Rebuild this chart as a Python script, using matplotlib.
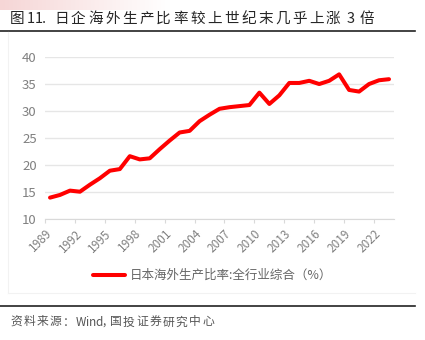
import numpy as np
import matplotlib.pyplot as plt
from matplotlib.colors import LinearSegmentedColormap
from matplotlib.lines import Line2D

plt.rcParams['font.family'] = ['Noto Sans CJK SC', 'DejaVu Sans']

# 日本海外生产比率：全行业综合 (%)
years = list(range(1989, 2024))
ratio = [13.9, 14.4, 15.2, 15.0, 16.3, 17.5, 18.9, 19.2, 21.6, 21.0,
         21.2, 22.9, 24.5, 26.0, 26.3, 28.1, 29.3, 30.4, 30.7, 30.9,
         31.1, 33.4, 31.3, 32.9, 35.2, 35.2, 35.6, 35.0, 35.6, 36.8,
         33.9, 33.6, 35.0, 35.7, 35.9]
tick_years = list(range(1989, 2024, 3))
y_ticks = [10, 15, 20, 25, 30, 35, 40]

title = '图11. 日企海外生产比率较上世纪末几乎上涨 3 倍'
series_name = '日本海外生产比率:全行业综合（%）'
source = '资料来源：Wind,国投证券研究中心'

W, H = 425, 340
fig = plt.figure(figsize=(W / 100, H / 100), dpi=100)


def spaced_text(x_px, y_px, s, cjk_adv, narrow, **kw):
    # place characters one by one so the letter spacing stays wide
    x = x_px
    for ch in s:
        fig.text(x / W, 1 - y_px / H, ch, va='center', ha='left', **kw)
        x += narrow.get(ch, cjk_adv if ord(ch) > 0x2e80 else 7.5)


# faint pink wash behind the top-left corner
bg = fig.add_axes([0, 0.972, 0.40, 0.028])
bg.imshow(np.linspace(1, 0, 200)[None, :], aspect='auto',
          cmap=LinearSegmentedColormap.from_list('wash', ['#ffffff', '#f6d6d6']),
          extent=[0, 1, 0, 1])
bg.set_axis_off()

spaced_text(10, 19, title, 17, {'1': 7.5, '.': 8, ' ': 4, '3': 9},
            fontsize=10.5, color='#262626')
fig.add_artist(Line2D([0, 0.976], [0.909, 0.909], color='#222222', lw=1.2))
fig.add_artist(Line2D([0, 0.976], [0.1, 0.1], color='#222222', lw=1.2))
spaced_text(10, 322, source, 13.2,
            {'：': 12.5, 'W': 9.5, 'i': 4, 'n': 7, 'd': 7, ',': 7},
            fontsize=8.5, color='#555555')

# light frame of the chart area
fig.add_artist(Line2D([0.019, 0.019], [0.138, 0.905], color='#f2f2f2', lw=0.8))
fig.add_artist(Line2D([0.019, 0.976], [0.138, 0.138], color='#f2f2f2', lw=0.8))

ax = fig.add_axes([0.106, 0.357, 0.821, 0.475])
ax.plot(years, ratio, color='#ff0000', lw=2.9, solid_joinstyle='round', solid_capstyle='round')

ax.set_xlim(1988.5, 2023.5)
ax.set_ylim(10, 40)
ax.set_yticks(y_ticks)
ax.set_xticks([y - 0.5 for y in tick_years])
ax.set_xticklabels([str(y) for y in tick_years], rotation=45, ha='right',
                   rotation_mode='anchor')
ax.grid(axis='y', color='#e6e6e6', lw=1)
ax.set_axisbelow(True)
for side in ['top', 'right', 'left']:
    ax.spines[side].set_visible(False)
ax.spines['bottom'].set_color('#d9d9d9')
ax.tick_params(axis='y', length=0, labelsize=9.5, labelcolor='#808080', pad=6)
ax.tick_params(axis='x', length=3, color='#d9d9d9', labelsize=8.5, labelcolor='#808080', pad=3)

handle = Line2D([], [], color='#ff0000', lw=2.9, solid_capstyle='round')
fig.legend([handle], [series_name], loc='center', bbox_to_anchor=(0.5, 0.19),
           frameon=False, fontsize=9, labelcolor='#666666', handlelength=2.6,
           handletextpad=0.4)

fig.savefig('out.png', dpi=100)
